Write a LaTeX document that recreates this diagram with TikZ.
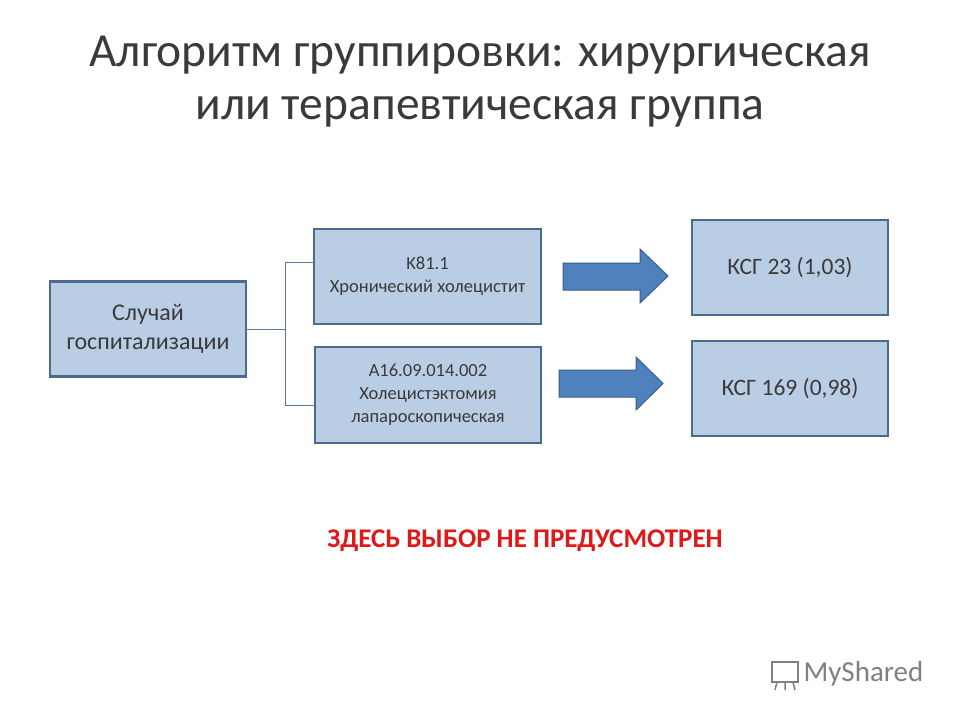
\documentclass[tikz,border=0pt]{standalone}
\usepackage{fontspec}
\setmainfont{Carlito}
\begin{document}
\begin{tikzpicture}[x=1pt,y=-1pt,
  box/.style={draw=boxline,line width=2.2pt,fill=boxfill,text=txt,align=center,inner sep=0pt},
  bigarrow/.style={fill=arrfill,draw=arrline,line width=1pt,line join=miter},
  conn/.style={draw=connc,line width=0.8pt}]
\definecolor{boxfill}{HTML}{B9CDE5}
\definecolor{boxline}{HTML}{4A6A90}
\definecolor{arrfill}{HTML}{4F81BD}
\definecolor{arrline}{HTML}{385D8A}
\definecolor{connc}{HTML}{5A7898}
\definecolor{txt}{HTML}{3A3A3A}
\definecolor{red1}{HTML}{E01818}
\useasboundingbox (0,0) rectangle (960,720);
\fill[white] (0,0) rectangle (960,720);
\node[text=txt,font=\fontsize{47.5}{54}\selectfont] (t1) at (480,55) {Алгоритм группировки: хирургическая};
\node[text=txt,font=\fontsize{47.5}{54}\selectfont] (t2) at (480,112) {или терапевтическая группа};
\node[box,minimum width=196pt,minimum height=95pt,font=\fontsize{24}{29}\selectfont] (s) at (148,329) {Случай\\госпитализации};
\node[box,minimum width=227pt,minimum height=95pt,font=\fontsize{18.5}{23}\selectfont] (k) at (427.5,276.5) {K81.1\\Хронический холецистит};
\node[box,minimum width=226pt,minimum height=96pt,font=\fontsize{18.5}{23}\selectfont] (a) at (428,395) {A16.09.014.002\\Холецистэктомия\\лапароскопическая};
\node[box,minimum width=196pt,minimum height=95pt,font=\fontsize{23.5}{29}\selectfont] (g1) at (790,267.5) {КСГ 23 (1,03)};
\node[box,minimum width=196pt,minimum height=95pt,font=\fontsize{23.5}{29}\selectfont] (g2) at (790,388.5) {КСГ 169 (0,98)};
\coordinate (j) at (285,329);
\draw[conn] (s.east) -- (j);
\draw[conn] (285,262) -- (285,405);
\draw[conn] (285,262) -- (k.west|-0,262);
\draw[conn] (285,405) -- (a.west|-0,405);
\draw[bigarrow] (563,263) -- (640,263) -- (640,249) -- (668,276) -- (640,303) -- (640,290) -- (563,290) -- cycle;
\draw[bigarrow] (559,370) -- (636,370) -- (636,357) -- (663,383.5) -- (636,410) -- (636,397) -- (559,397) -- cycle;
\node[text=red1,font=\bfseries\fontsize{27}{32}\selectfont] (r) at (525,541) {ЗДЕСЬ ВЫБОР НЕ ПРЕДУСМОТРЕН};
\node[text=gray,font=\fontsize{29}{34}\selectfont,anchor=west] (w) at (800,674) {MyShared};
\draw[gray,line width=1.5pt] (772,662) rectangle (798,682);
\draw[gray,line width=1.5pt] (777,682) -- (775,690) (785,682) -- (785,690) (793,682) -- (795,690);
\end{tikzpicture}
\end{document}
